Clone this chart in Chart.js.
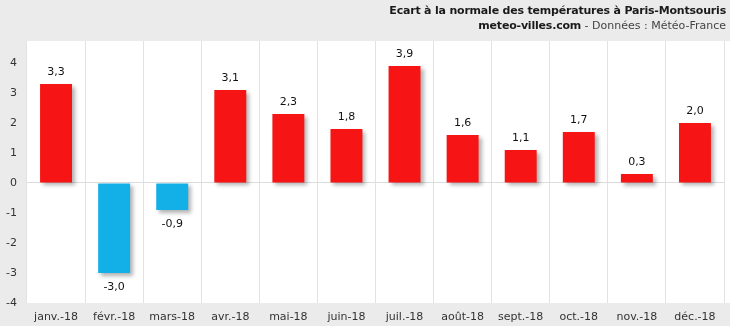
<!DOCTYPE html>
<html>
<head>
<meta charset="utf-8">
<script src="https://cdn.jsdelivr.net/npm/chart.js@4/dist/chart.umd.min.js"></script>
<style>
  html, body { margin: 0; padding: 0; background: #ebebeb; }
  #wrap { position: relative; width: 730px; height: 326px; }
  #titre { position: absolute; right: 4px; top: 3px; text-align: right;
           font-family: "DejaVu Sans", Verdana, sans-serif; font-size: 11px; line-height: 15px; color: #222; }
  #titre b { color: #1a1a1a; letter-spacing: -0.2px; }
  #titre .src { color: #444; }
</style>
</head>
<body>
<div id="wrap">
  <canvas id="graph" width="730" height="326"></canvas>
  <div id="titre">
    <b>Ecart à la normale des températures à Paris-Montsouris</b><br>
    <b>meteo-villes.com</b><span class="src"> - Données : Météo-France</span>
  </div>
</div>
<script>
var mois = ["janv.-18", "févr.-18", "mars-18", "avr.-18", "mai-18", "juin-18",
            "juil.-18", "août-18", "sept.-18", "oct.-18", "nov.-18", "déc.-18"];
var ecarts = [3.3, -3.0, -0.9, 3.1, 2.3, 1.8, 3.9, 1.6, 1.1, 1.7, 0.3, 2.0];
var graduations = [-4, -3, -2, -1, 0, 1, 2, 3, 4];

var ROUGE = "#f71414";
var BLEU = "#13b0e8";

function virgule(v) {
	return v.toFixed(1).replace(".", ",");
}

// fond blanc de la zone du graphique
var fondBlanc = {
	id: "fondBlanc",
	beforeDraw: function(chart) {
		var ctx = chart.ctx, a = chart.chartArea;
		ctx.save();
		ctx.fillStyle = "#ffffff";
		ctx.fillRect(a.left, a.top, chart.width - a.left, a.bottom - a.top);
		ctx.restore();
	}
};

// ombre portée sous les barres
var ombre = {
	id: "ombre",
	beforeDatasetsDraw: function(chart) {
		var ctx = chart.ctx;
		ctx.save();
		ctx.shadowColor = "rgba(0,0,0,0.3)";
		ctx.shadowBlur = 4;
		ctx.shadowOffsetX = 3;
		ctx.shadowOffsetY = 3;
	},
	afterDatasetsDraw: function(chart) {
		chart.ctx.restore();
	}
};

// valeurs au dessus / en dessous des barres
var etiquettes = {
	id: "etiquettes",
	afterDatasetsDraw: function(chart) {
		var ctx = chart.ctx;
		var meta = chart.getDatasetMeta(0);
		ctx.save();
		ctx.font = "11px 'DejaVu Sans'";
		ctx.fillStyle = "#111";
		ctx.textAlign = "center";
		ctx.textBaseline = "middle";
		meta.data.forEach(function(bar, i) {
			var v = ecarts[i];
			var y = v >= 0 ? bar.y - 12 : bar.y + 14;
			ctx.fillText(virgule(v), bar.x, y);
		});
		ctx.restore();
	}
};

new Chart(document.getElementById("graph"), {
	type: "bar",
	data: {
		labels: mois,
		datasets: [{
			data: ecarts,
			backgroundColor: ecarts.map(function(v){ return v >= 0 ? ROUGE : BLEU; }),
			barPercentage: 0.55,
			categoryPercentage: 1.0,
			borderWidth: 0
		}]
	},
	options: {
		responsive: false,
		animation: false,
		devicePixelRatio: 1,
		layout: { padding: { top: 41, right: 6, left: 0, bottom: 0 } },
		plugins: {
			legend: { display: false },
			tooltip: { enabled: false }
		},
		scales: {
			x: {
				offset: true,
				border: { display: false },
				grid: { display: true, color: "#e2e2e2", offset: true, drawTicks: false },
				ticks: { color: "#333", font: { family: "DejaVu Sans", size: 11 }, padding: 8, maxRotation: 0 },
				afterFit: function(scale) { scale.height = 23; }
			},
			y: {
				min: -4,
				max: 4.73,
				border: { display: false },
				grid: {
					drawTicks: false,
					color: function(c) { return c.tick && c.tick.value === 0 ? "#dcdcdc" : "rgba(0,0,0,0)"; }
				},
				ticks: {
					color: "#333",
					font: { family: "DejaVu Sans", size: 11 },
					padding: 10,
					callback: function(v) { return String(v); }
				},
				afterBuildTicks: function(scale) {
					scale.ticks = graduations.map(function(v){ return { value: v }; });
				},
				afterFit: function(scale) { scale.width = 27; }
			}
		}
	},
	plugins: [fondBlanc, ombre, etiquettes]
});
</script>
</body>
</html>
